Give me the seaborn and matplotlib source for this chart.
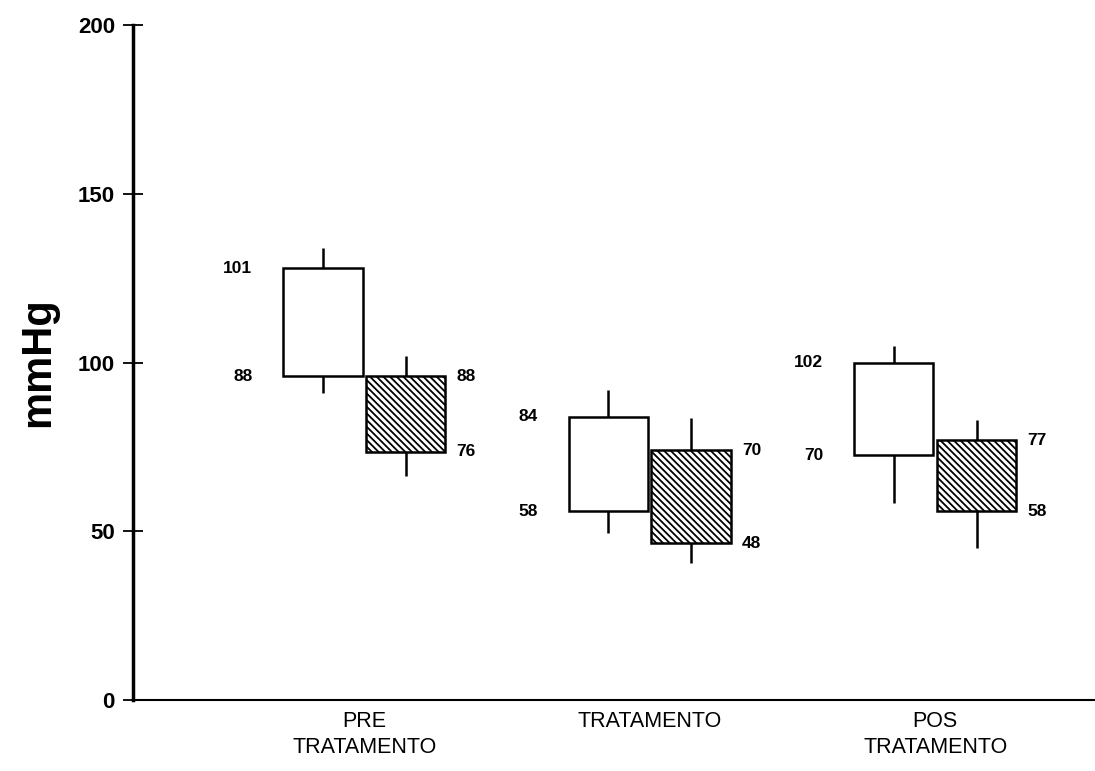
import matplotlib
matplotlib.use("Agg")
import matplotlib.pyplot as plt
import seaborn as sns
import pandas as pd

# categorias do eixo x
grupos = ["PRE\nTRATAMENTO", "TRATAMENTO", "POS\nTRATAMENTO"]

# caixa branca (serie A): extremos e limites da caixa, em mmHg
a_min = [91, 49.5, 58.5]
a_q1 = [96, 56, 72.5]
a_q3 = [128, 84, 100]
a_max = [134, 92, 105]
a_rot_sup = ["101", "84", "102"]
a_rot_inf = ["88", "58", "70"]

# caixa hachurada (serie B)
b_min = [66.5, 40.5, 45]
b_q1 = [73.5, 46.5, 56]
b_q3 = [96, 74, 77]
b_max = [102, 83.5, 83]
b_rot_sup = ["88", "70", "77"]
b_rot_inf = ["76", "48", "58"]

linhas = []
for serie, mn, q1, q3, mx in [("A", a_min, a_q1, a_q3, a_max),
                              ("B", b_min, b_q1, b_q3, b_max)]:
    for g, lo, c1, c3, hi in zip(grupos, mn, q1, q3, mx):
        for v in [lo, c1, (c1 + c3) / 2, c3, hi]:
            linhas.append({"grupo": g, "serie": serie, "mmHg": v})
df = pd.DataFrame(linhas)

sns.set_style("white", rc={"text.color": "black", "axes.labelcolor": "black",
                           "xtick.color": "black", "ytick.color": "black"})
plt.rcParams["font.family"] = ["Liberation Sans", "DejaVu Sans"]
plt.rcParams["hatch.linewidth"] = 1.3

fig = plt.figure(figsize=(10.95, 7.71), dpi=100)
ax = fig.add_axes([0.1215, 0.092, 0.8785, 0.8756])

sns.boxplot(data=df, x="grupo", y="mmHg", hue="serie", order=grupos,
            palette={"A": "#ffffff", "B": "#fffffe"}, width=0.58, gap=0.04,
            whis=(0, 100), showcaps=False, linecolor="black", linewidth=1.8,
            medianprops={"linewidth": 0}, legend=False, ax=ax)

for p in ax.patches:
    fc = p.get_facecolor()
    if fc[2] < 0.9999:
        p.set_hatch("\\\\\\\\\\")
        p.set_facecolor("white")

meia = 0.145
larg = 0.28
for i in range(len(grupos)):
    xa = i - meia - larg / 2
    xb = i + meia + larg / 2
    for val, txt in [(a_q3[i], a_rot_sup[i]), (a_q1[i], a_rot_inf[i])]:
        ax.annotate(txt, (xa, val), xytext=(-22, 0), textcoords="offset points",
                    ha="right", va="center", fontsize=12.5, fontweight="bold")
    for val, txt in [(b_q3[i], b_rot_sup[i]), (b_q1[i], b_rot_inf[i])]:
        ax.annotate(txt, (xb, val), xytext=(8, 0), textcoords="offset points",
                    ha="left", va="center", fontsize=12.5, fontweight="bold")

ax.set_xlim(-0.81, 2.56)
ax.set_ylim(0, 200)
ax.set_yticks([0, 50, 100, 150, 200])
ax.set_yticklabels(["0", "50", "100", "150", "200"], fontsize=16, fontweight="bold")
ax.tick_params(axis="y", direction="inout", length=14, width=1.3, pad=6, left=True)
ax.tick_params(axis="x", length=0, labelsize=15.5, pad=8)
for t in ax.get_xticklabels():
    t.set_linespacing(1.3)
ax.set_xlabel("")
ax.set_ylabel("mmHg", fontsize=30, fontweight="bold", labelpad=14)

sns.despine(ax=ax, top=True, right=True)
ax.spines["left"].set_linewidth(2.5)
ax.spines["left"].set_color("black")
ax.spines["bottom"].set_linewidth(1.5)
ax.spines["bottom"].set_color("black")

fig.savefig("out.png", dpi=100)
